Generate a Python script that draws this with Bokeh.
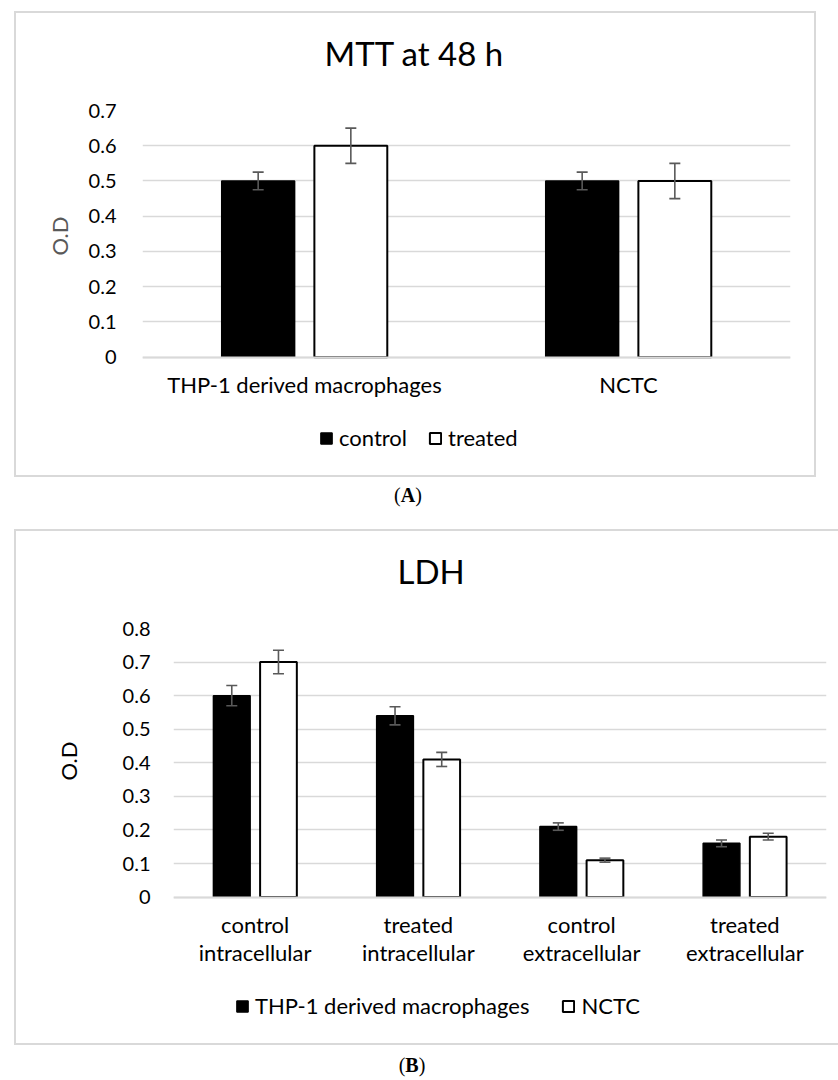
from bokeh.plotting import figure
from bokeh.models import (ColumnDataSource, FactorRange, Range1d, Whisker, TeeHead,
                          Legend, LegendItem, FixedTicker, Div, Title)
from bokeh.transform import dodge
from bokeh.embed import file_html
from bokeh.resources import INLINE

# ---------------- Panel A data ----------------
a_title = "MTT at 48 h"
a_categories = ["THP-1 derived macrophages", "NCTC"]
a_series = ["control", "treated"]
a_control = [0.50, 0.50]
a_control_err = [0.025, 0.025]
a_treated = [0.60, 0.50]
a_treated_err = [0.05, 0.05]
a_yticks = [0, 0.1, 0.2, 0.3, 0.4, 0.5, 0.6, 0.7]
a_ylabels = ["0", "0.1", "0.2", "0.3", "0.4", "0.5", "0.6", "0.7"]

# ---------------- Panel B data ----------------
b_title = "LDH"
b_categories = ["control\nintracellular", "treated\nintracellular",
                "control\nextracellular", "treated\nextracellular"]
b_series = ["THP-1 derived macrophages", "NCTC"]
b_thp = [0.60, 0.54, 0.21, 0.16]
b_thp_err = [0.03, 0.027, 0.011, 0.01]
b_nctc = [0.70, 0.41, 0.11, 0.18]
b_nctc_err = [0.035, 0.021, 0.006, 0.01]
b_yticks = [0, 0.1, 0.2, 0.3, 0.4, 0.5, 0.6, 0.7, 0.8]
b_ylabels = ["0", "0.1", "0.2", "0.3", "0.4", "0.5", "0.6", "0.7", "0.8"]

FONT = "Lato"
GRID = "#d9d9d9"
ERR = "#595959"


def make_panel(title, cats, series, v1, e1, v2, e2, yticks, ylabels, yrange,
               w, h, mb, tick_standoff, ylabel_color, ylabel_offset, ylabel_standoff,
               title_offset, legend_loc, legend_spacing, border_css, margin):
    p = figure(x_range=FactorRange(*cats), y_range=Range1d(*yrange),
               width=w, height=h, title=None,
               min_border_left=mb[0], min_border_right=mb[1],
               min_border_top=mb[2], min_border_bottom=mb[3],
               output_backend="svg", toolbar_location=None, tools="",
               margin=margin)
    p.styles = border_css
    p.outline_line_color = None
    p.background_fill_color = "white"
    p.border_fill_color = "white"

    # spacer between the plot area and the chart title, then the title itself
    p.add_layout(Title(text=" ", text_font_size="1px", standoff=15), "above")
    p.add_layout(Title(text=title, align="left", vertical_align="top",
                       offset=title_offset, standoff=36,
                       text_font=FONT, text_font_size="33px",
                       text_font_style="normal", text_color="#000000"), "above")

    src = ColumnDataSource(dict(cat=cats, v1=v1, v2=v2,
                                lo1=[a - b for a, b in zip(v1, e1)],
                                hi1=[a + b for a, b in zip(v1, e1)],
                                lo2=[a - b for a, b in zip(v2, e2)],
                                hi2=[a + b for a, b in zip(v2, e2)]))
    off = 0.143
    bw = 0.225
    r1 = p.vbar(x=dodge("cat", -off, range=p.x_range), top="v1", width=bw,
                source=src, fill_color="black", line_color="black", line_width=1.5)
    r2 = p.vbar(x=dodge("cat", off, range=p.x_range), top="v2", width=bw,
                source=src, fill_color="white", line_color="black", line_width=2)

    for base, lo, hi in ((dodge("cat", -off, range=p.x_range), "lo1", "hi1"),
                         (dodge("cat", off, range=p.x_range), "lo2", "hi2")):
        wk = Whisker(source=src, base=base, lower=lo, upper=hi, level="annotation",
                     line_color=ERR, line_width=1.6,
                     upper_head=TeeHead(size=11, line_color=ERR, line_width=1.6),
                     lower_head=TeeHead(size=11, line_color=ERR, line_width=1.6))
        p.add_layout(wk)

    # y axis
    p.yaxis.ticker = FixedTicker(ticks=yticks)
    p.yaxis.major_label_overrides = {t: l for t, l in zip(yticks, ylabels)}
    p.yaxis.axis_line_color = None
    p.yaxis.major_tick_line_color = None
    p.yaxis.minor_tick_line_color = None
    p.yaxis.major_label_standoff = tick_standoff
    p.yaxis.major_label_text_font = FONT
    p.yaxis.major_label_text_font_size = "20px"
    p.yaxis.major_label_text_color = "#000000"

    ylab = Title(text="O.D", align="left", vertical_align="middle",
                 offset=ylabel_offset, standoff=ylabel_standoff,
                 text_font=FONT, text_font_size="22px", text_font_style="normal",
                 text_color=ylabel_color)
    p.add_layout(ylab, "left")

    # x axis drawn at y = 0
    p.xaxis.fixed_location = 0
    p.xaxis.axis_line_color = GRID
    p.xaxis.axis_line_width = 2
    p.xaxis.major_tick_line_color = None
    p.xaxis.minor_tick_line_color = None
    p.xaxis.major_label_standoff = 8
    p.xaxis.major_label_text_font = FONT
    p.xaxis.major_label_text_font_size = "22px"
    p.xaxis.major_label_text_color = "#000000"
    p.xaxis.major_label_text_line_height = 1.05

    p.xgrid.grid_line_color = None
    p.ygrid.grid_line_color = GRID
    p.ygrid.grid_line_width = 1.6
    p.x_range.range_padding = 0

    legend = Legend(items=[LegendItem(label=series[0], renderers=[r1]),
                           LegendItem(label=series[1], renderers=[r2])],
                    orientation="horizontal", location=legend_loc,
                    glyph_width=14, glyph_height=14, label_standoff=6,
                    spacing=legend_spacing, padding=0, margin=0,
                    label_text_font=FONT, label_text_font_size="22px",
                    label_text_color="#000000",
                    border_line_color=None, background_fill_alpha=0)
    p.add_layout(legend, "center")
    return p


# A: box 802 x 466 (border-box); plot area 644 x 244 for 0..0.7, frame extends below 0
pA = make_panel(a_title, a_categories, a_series, a_control, a_control_err,
                a_treated, a_treated_err, a_yticks, a_ylabels, (-0.3414, 0.7),
                802, 466, (126, 28, 97, 2), 20, "#595959", 222, 24, 182,
                (177, 26), 21,
                {"border": "2px solid #d9d9d9"}, (11, 0, 0, 14))

# B: box 824 x 516 (border-box, no right border); plot area 651 x 266 for 0..0.8
pB = make_panel(b_title, b_categories, b_series, b_thp, b_thp_err,
                b_nctc, b_nctc_err, b_yticks, b_ylabels, (-0.4421, 0.8),
                824, 516, (157, 14, 97, 2), 17, "#000000", 265, 74, 224,
                (62, 26), 32,
                {"border-left": "2px solid #d9d9d9", "border-top": "2px solid #d9d9d9",
                 "border-bottom": "2px solid #d9d9d9"}, (0, 0, 0, 14))

divA = Div(text='<div style="width:816px;padding-top:4px;text-align:center;'
                'font-family:\'Liberation Serif\';font-size:20px;color:#000">(<b>A</b>)</div>',
           width=816, height=52, margin=(0, 0, 0, 0))
divB = Div(text='<div style="width:824px;padding-top:6px;text-align:center;'
                'font-family:\'Liberation Serif\';font-size:20px;color:#000">(<b>B</b>)</div>',
           width=824, height=35, margin=(0, 0, 0, 0))

open("out.html", "w").write(file_html([pA, divA, pB, divB], INLINE))
